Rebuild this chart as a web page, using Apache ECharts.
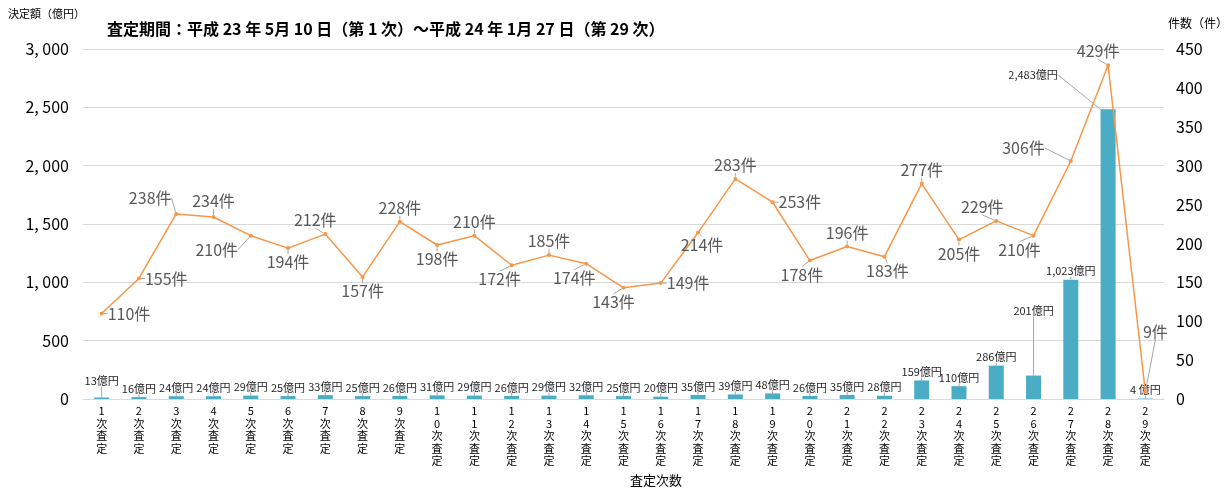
<!DOCTYPE html>
<html><head><meta charset="utf-8">
<script src="https://cdn.jsdelivr.net/npm/echarts@6/dist/echarts.min.js"></script>
<style>html,body{margin:0;padding:0;background:#fff}#c{width:1232px;height:491px}</style>
</head><body><div id="c"></div>
<script>
// ---- data ----
const categories = ['1次査定','2次査定','3次査定','4次査定','5次査定','6次査定','7次査定','8次査定','9次査定','10次査定',
  '11次査定','12次査定','13次査定','14次査定','15次査定','16次査定','17次査定','18次査定','19次査定','20次査定',
  '21次査定','22次査定','23次査定','24次査定','25次査定','26次査定','27次査定','28次査定','29次査定'];
const amounts = [13,16,24,24,29,25,33,25,26,31,29,26,29,32,25,20,35,39,48,26,35,28,159,110,286,201,1023,2483,4];
const counts = [110,155,238,234,210,194,212,157,228,198,210,172,185,174,143,149,214,283,253,178,196,183,277,205,229,210,306,429,9];
const leftTicks = {min:0, max:3000, interval:500};
const rightTicks = {min:0, max:450, interval:50};
const titleText = '査定期間：平成 23 年 5月 10 日（第 1 次）～平成 24 年 1月 27 日（第 29 次）';

// ---- label placement (layout only) ----
const linePos = ['right','right','top','top','bottom','bottom','top','bottom','top','bottom',
  'top','bottom','top','bottom','bottom','right','bottom','top','right','bottom',
  'top','bottom','top','bottom','top','bottom','left','top','top'];
const lineShift = {2:[-26,-2],3:[0,-2],4:[-34,0],6:[-10,0],11:[-12,0],13:[-12,0],14:[-10,0],16:[4,-2],19:[-8,0],21:[3,0],24:[-14,0],25:[-14,0],26:[-20,-13],27:[-10,0],28:[10,-46]};
const barShift = {0:[0,-8],25:[0,-56],27:[-75,-26]};

const FONT = '"Noto Sans CJK JP", "Noto Sans", sans-serif';
const fmtComma = v => String(v).replace(/\B(?=(\d{3})+(?!\d))/g, ',');

const chart = echarts.init(document.getElementById('c'));
chart.setOption({
  animation:false,
  textStyle:{fontFamily:FONT},
  grid:{left:83,right:68,top:49,bottom:92,containLabel:false},
  graphic:[
    {type:'text',left:8,top:8,style:{text:'決定額（億円）',font:'11px '+FONT,fill:'#000'}},
    {type:'text',left:1168,top:17,style:{text:'件数（件）',font:'12px '+FONT,fill:'#000'}},
    {type:'text',left:107,top:21,style:{text:titleText,font:'bold 16px '+FONT,fill:'#000'}},
    {type:'text',left:630,top:474,style:{text:'査定次数',font:'13px '+FONT,fill:'#000'}}
  ],
  xAxis:{type:'category',data:categories,
    axisLine:{lineStyle:{color:'#d9d9d9'}},axisTick:{show:false},
    axisLabel:{interval:0,margin:6,fontSize:11,color:'#000',lineHeight:12.5,fontFamily:FONT,
      formatter:v=>v.split('').join('\n')}},
  yAxis:[
    {type:'value',min:leftTicks.min,max:leftTicks.max,interval:leftTicks.interval,
      splitLine:{lineStyle:{color:'#d9d9d9'}},axisLine:{show:false},axisTick:{show:false},
      axisLabel:{fontSize:16,color:'#000',margin:14,formatter:v=>fmtComma(v).replace(',',', ')}},
    {type:'value',min:rightTicks.min,max:rightTicks.max,interval:rightTicks.interval,
      splitLine:{show:false},axisLine:{show:false},axisTick:{show:false},
      axisLabel:{fontSize:16,color:'#000',margin:12}}
  ],
  series:[
    {type:'bar',name:'決定額',yAxisIndex:0,barWidth:15,
      itemStyle:{color:'#4BACC6'},
      data:amounts,
      label:{show:true,position:'top',distance:3,fontSize:11,color:'#262626',
        formatter:p=>p.value===4?'4 億円':fmtComma(p.value)+'億円'},
      labelLine:{show:true,lineStyle:{color:'#a6a6a6',width:1}},
      labelLayout:p=>{const s=barShift[p.dataIndex];return s?{dx:s[0],dy:s[1]}:{};}
    },
    {type:'line',name:'件数',yAxisIndex:1,
      symbol:'circle',symbolSize:4,
      lineStyle:{color:'#F79646',width:1.5},
      itemStyle:{color:'#F79646'},
      data:counts.map((v,i)=>({value:v,label:{position:linePos[i]}})),
      label:{show:true,fontSize:16,color:'#595959',distance:4,formatter:p=>p.value+'件'},
      labelLine:{show:true,lineStyle:{color:'#a6a6a6',width:1}},
      labelLayout:p=>{const s=lineShift[p.dataIndex];return s?{dx:s[0],dy:s[1]}:{};}
    }
  ]
});
</script></body></html>
